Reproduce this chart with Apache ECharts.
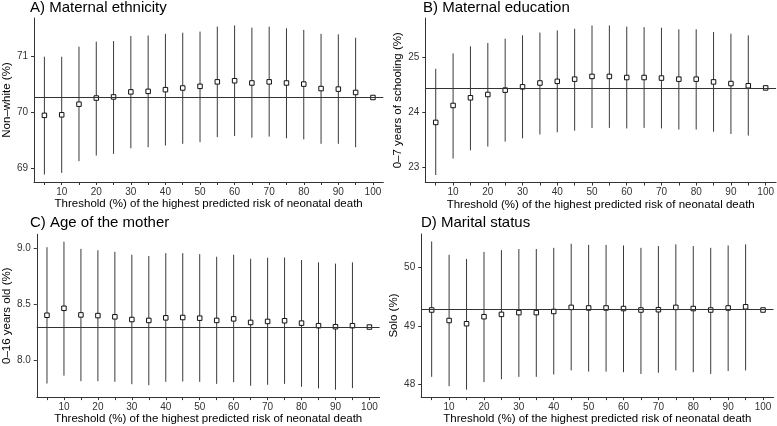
<!DOCTYPE html>
<html>
<head>
<meta charset="utf-8">
<script src="https://cdn.jsdelivr.net/npm/echarts@6/dist/echarts.min.js"></script>
<style>
  html, body { margin: 0; padding: 0; background: #fff; }
  #chart { width: 777px; height: 426px; }
</style>
</head>
<body>
<div id="chart"></div>
<script>
// thresholds (%) on the x axis
const thresholds = [5, 10, 15, 20, 25, 30, 35, 40, 45, 50, 55, 60, 65, 70, 75, 80, 85, 90, 95, 100];
const xLabelValues = [10, 20, 30, 40, 50, 60, 70, 80, 90, 100];

// A) Maternal ethnicity
const ethnicityEst  = [69.95, 69.96, 70.15, 70.26, 70.28, 70.37, 70.38, 70.41, 70.44, 70.47, 70.55, 70.57, 70.53, 70.55, 70.53, 70.51, 70.43, 70.42, 70.36, 70.27];
const ethnicityLow  = [68.89, 68.92, 69.13, 69.23, 69.26, 69.36, 69.38, 69.41, 69.44, 69.47, 69.56, 69.58, 69.55, 69.57, 69.54, 69.52, 69.44, 69.44, 69.38, 70.27];
const ethnicityHigh = [71.00, 71.00, 71.18, 71.27, 71.28, 71.37, 71.38, 71.41, 71.43, 71.45, 71.54, 71.56, 71.52, 71.54, 71.51, 71.48, 71.41, 71.40, 71.34, 70.27];
const ethnicityRef = 70.27;
const ethnicityTicks = [69, 70, 71];

// B) Maternal education
const educationEst  = [23.81, 24.12, 24.26, 24.32, 24.40, 24.46, 24.53, 24.56, 24.60, 24.65, 24.65, 24.63, 24.63, 24.62, 24.60, 24.60, 24.55, 24.52, 24.48, 24.44];
const educationLow  = [22.85, 23.15, 23.30, 23.37, 23.46, 23.52, 23.59, 23.63, 23.66, 23.71, 23.71, 23.70, 23.71, 23.70, 23.68, 23.68, 23.64, 23.60, 23.57, 24.44];
const educationHigh = [24.79, 25.07, 25.20, 25.26, 25.34, 25.40, 25.45, 25.49, 25.52, 25.58, 25.58, 25.56, 25.55, 25.54, 25.51, 25.51, 25.46, 25.43, 25.40, 24.44];
const educationRef = 24.44;
const educationTicks = [23, 24, 25];

// C) Age of the mother
const ageEst  = [8.403, 8.465, 8.406, 8.400, 8.389, 8.365, 8.357, 8.380, 8.383, 8.377, 8.357, 8.371, 8.339, 8.348, 8.354, 8.333, 8.310, 8.301, 8.310, 8.298];
const ageLow  = [7.795, 7.865, 7.816, 7.816, 7.810, 7.789, 7.780, 7.810, 7.813, 7.810, 7.792, 7.807, 7.775, 7.784, 7.792, 7.766, 7.751, 7.740, 7.754, 8.298];
const ageHigh = [9.009, 9.058, 8.994, 8.982, 8.968, 8.942, 8.930, 8.956, 8.956, 8.947, 8.924, 8.942, 8.906, 8.915, 8.918, 8.895, 8.874, 8.863, 8.874, 8.298];
const ageRef = 8.298;
const ageTicks = [8.0, 8.5, 9.0];

// D) Marital status
const maritalEst  = [49.275, 49.095, 49.04, 49.16, 49.20, 49.23, 49.23, 49.25, 49.32, 49.31, 49.31, 49.30, 49.275, 49.28, 49.32, 49.30, 49.275, 49.31, 49.33, 49.275];
const maritalLow  = [48.13, 47.97, 47.91, 48.04, 48.09, 48.13, 48.13, 48.17, 48.24, 48.22, 48.22, 48.21, 48.18, 48.20, 48.24, 48.21, 48.18, 48.23, 48.24, 49.275];
const maritalHigh = [50.45, 50.22, 50.15, 50.27, 50.30, 50.32, 50.32, 50.34, 50.41, 50.39, 50.39, 50.38, 50.34, 50.37, 50.40, 50.37, 50.34, 50.38, 50.40, 49.275];
const maritalRef = 49.28;
const maritalTicks = [48, 49, 50];

const FONT = 'Liberation Sans, Arial, Helvetica, sans-serif';

const panels = [
    { title: 'A) Maternal ethnicity', yName: 'Non\u2013white (%)', est: ethnicityEst, low: ethnicityLow, high: ethnicityHigh, ref: ethnicityRef, ticks: ethnicityTicks, dec: 0,
      grid: { left: 31.3, top: 18, width: 352, height: 164 }, titlePos: { left: 30, top: 0 } },
    { title: 'B) Maternal education', yName: '0\u20137 years of schooling (%)', est: educationEst, low: educationLow, high: educationHigh, ref: educationRef, ticks: educationTicks, dec: 0,
      grid: { left: 425.3, top: 18, width: 351.4, height: 164.5 }, titlePos: { left: 423, top: 0 } },
    { title: 'C) Age of the mother', yName: '0\u201316 years old (%)', est: ageEst, low: ageLow, high: ageHigh, ref: ageRef, ticks: ageTicks, dec: 1,
      grid: { left: 30.6, top: 234.3, width: 349, height: 164 }, titlePos: { left: 30, top: 215.5 } },
    { title: 'D) Marital status', yName: 'Solo (%)', est: maritalEst, low: maritalLow, high: maritalHigh, ref: maritalRef, ticks: maritalTicks, dec: 0,
      grid: { left: 421.2, top: 234, width: 352.3, height: 164 }, titlePos: { left: 421, top: 215.5 } }
];

let titles = [], grids = [], xAxes = [], yAxes = [], series = [];

panels.forEach((p, i) => {
    // ggplot style 5% expansion of the data range
    const lo = Math.min(...p.low), hi = Math.max(...p.high);
    const pad = (hi - lo) * 0.05;

    titles.push({
        text: p.title, left: p.titlePos.left, top: p.titlePos.top, padding: 0,
        textStyle: { fontFamily: FONT, fontSize: 15, fontWeight: 'normal', color: '#000' }
    });
    grids.push(p.grid);
    xAxes.push({
        type: 'value', gridIndex: i, min: 2, max: 103,
        name: 'Threshold (%) of the highest predicted risk of neonatal death',
        nameLocation: 'middle', nameGap: 11.5,
        nameTextStyle: { fontFamily: FONT, fontSize: 11.5, color: '#000', verticalAlign: 'top' },
        splitLine: { show: false },
        axisLine: { show: true, lineStyle: { color: '#333', width: 1 } },
        axisTick: { show: true, length: 3, customValues: thresholds, lineStyle: { color: '#333' } },
        axisLabel: { customValues: xLabelValues, margin: 5, fontFamily: FONT, fontSize: 10, color: '#333' }
    });
    yAxes.push({
        type: 'value', gridIndex: i, min: lo - pad, max: hi + pad,
        name: p.yName, nameLocation: 'middle', nameRotate: 90, nameGap: 18,
        nameTextStyle: { fontFamily: FONT, fontSize: 11.5, color: '#000' },
        splitLine: { show: false },
        axisLine: { show: true, lineStyle: { color: '#333', width: 1 } },
        axisTick: { show: true, length: 3, customValues: p.ticks, lineStyle: { color: '#333' } },
        axisLabel: { customValues: p.ticks, margin: 6, fontFamily: FONT, fontSize: 10, color: '#333',
            formatter: v => Number(v).toFixed(p.dec) }
    });
    // error bars
    series.push({
        type: 'custom', xAxisIndex: i, yAxisIndex: i, z: 2,
        data: thresholds.map((t, k) => [t, p.low[k], p.high[k]]),
        encode: { x: 0, y: [1, 2] },
        renderItem: function (params, api) {
            const x = api.value(0);
            const a = api.coord([x, api.value(1)]);
            const b = api.coord([x, api.value(2)]);
            return { type: 'line', shape: { x1: a[0], y1: a[1], x2: b[0], y2: b[1] },
                     style: { stroke: '#3a3a3a', lineWidth: 1 } };
        },
        markLine: {
            silent: true, symbol: 'none', animation: false,
            label: { show: false },
            lineStyle: { color: '#333', width: 1, type: 'solid' },
            data: [{ yAxis: p.ref }]
        }
    });
    // point estimates
    series.push({
        type: 'scatter', xAxisIndex: i, yAxisIndex: i, z: 3,
        symbol: 'rect', symbolSize: 4.5,
        itemStyle: { color: '#fff', borderColor: '#111', borderWidth: 1, opacity: 1 },
        data: thresholds.map((t, k) => [t, p.est[k]])
    });
});

const chart = echarts.init(document.getElementById('chart'));
chart.setOption({
    animation: false,
    backgroundColor: '#fff',
    title: titles,
    grid: grids,
    xAxis: xAxes,
    yAxis: yAxes,
    series: series
});
</script>
</body>
</html>
